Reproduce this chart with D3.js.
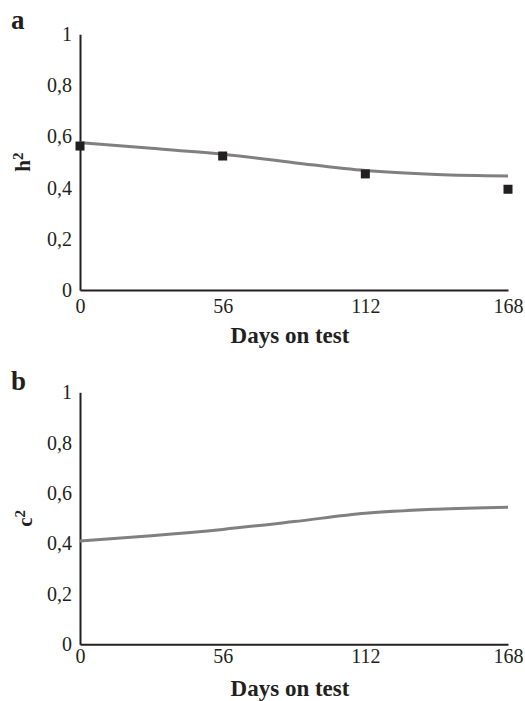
<!DOCTYPE html>
<html>
<head>
<meta charset="utf-8">
<script src="https://cdn.jsdelivr.net/npm/d3@7"></script>
<style>
  body { margin: 0; background: #fff; }
  svg { display: block; }
</style>
</head>
<body>
<div id="myChart"></div>
<script>
//Global Variables
var w = 525;
var h = 701;
var axisColor = "#231f20";
var lineColor = "#808080";
var fontFamily = "'Liberation Serif', 'Times New Roman', serif";

//data
var days = [0, 28, 56, 84, 112, 140, 168];
var h2Curve = [0.576, 0.554, 0.531, 0.498, 0.467, 0.452, 0.446];
var h2PointDays = [0, 56, 112, 168];
var h2Points = [0.563, 0.524, 0.454, 0.394];
var c2Curve = [0.410, 0.431, 0.456, 0.487, 0.520, 0.536, 0.544];
var xTicks = [0, 56, 112, 168];
var yTicks = [0, 0.2, 0.4, 0.6, 0.8, 1];
var xTitle = "Days on test";

//comma as decimal mark
var locale = d3.formatLocale({decimal: ",", thousands: ".", grouping: [3], currency: ["", ""]});
var yFormat = function(d) { return d === 0 || d === 1 ? String(d) : locale.format(".1f")(d); };

var svg = d3.select("#myChart")
	.append("svg")
	.attr("width", w)
	.attr("height", h);

//panel settings
var panels = [
	{letter: "a", letterY: 29.3, top: 34.3, bottom: 290, sym: "h", curve: h2Curve, points: h2Points,
		titleX: 30, xPad: 9, xTitleY: 343.3},
	{letter: "b", letterY: 390, top: 392.3, bottom: 644.3, sym: "c", curve: c2Curve, points: null,
		titleX: 31.5, xPad: 5, xTitleY: 696}
];

var xScale = d3.scaleLinear()
	.domain([0, 168])
	.range([80, 508]);

panels.forEach(function(p) {

	var yScale = d3.scaleLinear()
		.domain([0, 1])
		.range([p.bottom, p.top]);

	var g = svg.append("g");

	//panel letter
	g.append("text")
		.attr("x", 11)
		.attr("y", p.letterY)
		.attr("font-family", fontFamily)
		.attr("font-size", "27px")
		.attr("font-weight", "bold")
		.attr("fill", axisColor)
		.text(p.letter);

	//axes
	var yAxis = d3.axisLeft(yScale)
		.tickValues(yTicks)
		.tickFormat(yFormat)
		.tickSize(0)
		.tickSizeOuter(0)
		.tickPadding(8);

	var xAxis = d3.axisBottom(xScale)
		.tickValues(xTicks)
		.tickSize(0)
		.tickSizeOuter(0)
		.tickPadding(p.xPad);

	g.append("g")
		.attr("class", "axis")
		.attr("transform", "translate(" + xScale(0) + ",0)")
		.call(yAxis);

	g.append("g")
		.attr("class", "axis")
		.attr("transform", "translate(0," + yScale(0) + ")")
		.call(xAxis);

	g.selectAll(".axis .domain")
		.attr("stroke", axisColor)
		.attr("stroke-width", 2);

	g.selectAll(".axis text")
		.attr("font-family", fontFamily)
		.attr("font-size", "20px")
		.attr("fill", axisColor);

	//axis titles
	g.append("text")
		.attr("x", xScale(84) - 4)
		.attr("y", p.xTitleY)
		.attr("text-anchor", "middle")
		.attr("font-family", fontFamily)
		.attr("font-size", "23px")
		.attr("font-weight", "bold")
		.attr("fill", axisColor)
		.text(xTitle);

	var yt = g.append("text")
		.attr("transform", "translate(" + p.titleX + "," + ((p.top + p.bottom) / 2) + ") rotate(-90)")
		.attr("text-anchor", "middle")
		.attr("font-family", fontFamily)
		.attr("font-size", "21px")
		.attr("font-weight", "bold")
		.attr("fill", axisColor);
	yt.append("tspan").text(p.sym);
	yt.append("tspan")
		.attr("dy", "-0.45em")
		.attr("font-size", "15px")
		.text("2");

	//smooth curve
	var line = d3.line()
		.x(function(d, i) { return xScale(days[i]); })
		.y(function(d) { return yScale(d); })
		.curve(d3.curveMonotoneX);

	g.append("path")
		.datum(p.curve)
		.attr("d", line)
		.attr("fill", "none")
		.attr("stroke", lineColor)
		.attr("stroke-width", 3);

	//observed points
	if (p.points) {
		var s = 9;
		g.selectAll("rect.pt")
			.data(p.points)
			.enter()
			.append("rect")
			.attr("class", "pt")
			.attr("x", function(d, i) { return xScale(h2PointDays[i]) - s / 2; })
			.attr("y", function(d) { return yScale(d) - s / 2; })
			.attr("width", s)
			.attr("height", s)
			.attr("fill", axisColor);
	}
});
</script>
</body>
</html>
